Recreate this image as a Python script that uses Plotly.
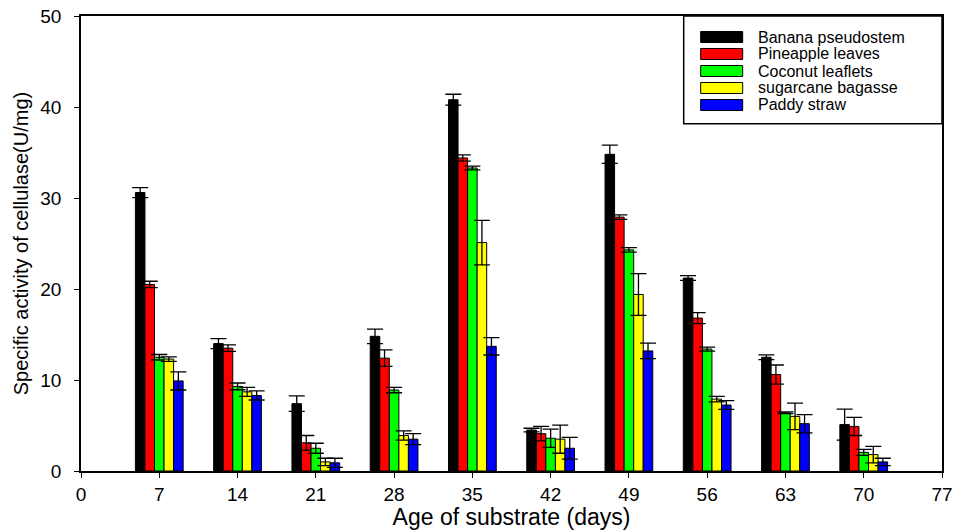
import plotly.graph_objects as go

# Age of substrate (days) and specific cellulase activity (U/mg) per substrate
days = [7, 14, 21, 28, 35, 42, 49, 56, 63, 70]
x_ticks = [0, 7, 14, 21, 28, 35, 42, 49, 56, 63, 70, 77]
y_ticks = [0, 10, 20, 30, 40, 50]

substrates = ["Banana pseudostem", "Pineapple leaves", "Coconut leaflets",
              "sugarcane bagasse", "Paddy straw"]
colors = ["#000000", "#FF0000", "#00FF00", "#FFFF00", "#0000FF"]

banana = [30.6, 14.0, 7.4, 14.8, 40.8, 4.5, 34.8, 21.2, 12.5, 5.1]
banana_err = [0.55, 0.55, 0.85, 0.8, 0.6, 0.2, 1.0, 0.26, 0.26, 1.7]
pineapple = [20.5, 13.5, 3.1, 12.4, 34.4, 4.1, 27.9, 16.8, 10.6, 4.9]
pineapple_err = [0.35, 0.35, 0.8, 0.9, 0.35, 0.8, 0.25, 0.6, 1.05, 1.0]
coconut = [12.5, 9.3, 2.5, 8.9, 33.3, 3.6, 24.3, 13.4, 6.4, 2.05]
coconut_err = [0.3, 0.37, 0.55, 0.3, 0.2, 1.0, 0.25, 0.22, 0.1, 0.33]
sugarcane = [12.3, 8.7, 1.0, 3.9, 25.1, 3.5, 19.4, 7.9, 6.0, 1.8]
sugarcane_err = [0.25, 0.5, 0.4, 0.5, 2.45, 1.55, 2.3, 0.3, 1.46, 0.9]
paddy = [9.9, 8.3, 0.9, 3.5, 13.7, 2.5, 13.2, 7.25, 5.2, 1.0]
paddy_err = [1.0, 0.5, 0.5, 0.6, 0.95, 1.2, 0.85, 0.48, 1.0, 0.4]

values = [banana, pineapple, coconut, sugarcane, paddy]
errors = [banana_err, pineapple_err, coconut_err, sugarcane_err, paddy_err]

FONT = "Liberation Sans, Arial, sans-serif"

fig = go.Figure()
for name, color, vals, errs in zip(substrates, colors, values, errors):
    fig.add_trace(go.Bar(
        x=days, y=vals, name=name,
        marker=dict(color=color, line=dict(color="#000000", width=1)),
        error_y=dict(type="data", array=errs, visible=True,
                     color="#000000", thickness=1.3, width=8),
        showlegend=False,
    ))

# Boxed legend in the upper-right corner with wide colour swatches
shapes = [dict(type="rect", xref="paper", yref="paper",
               x0=0.700, x1=1.0, y0=0.763, y1=1.0,
               line=dict(color="#000000", width=1.5), fillcolor="white", layer="above")]
annotations = []
row_y = [0.9538, 0.9165, 0.8791, 0.8418, 0.8044]
for name, color, yy in zip(substrates, colors, row_y):
    shapes.append(dict(type="rect", xref="paper", yref="paper",
                       x0=0.7197, x1=0.7685, y0=yy - 0.0121, y1=yy + 0.0121,
                       line=dict(color="#000000", width=1), fillcolor=color,
                       layer="above"))
    annotations.append(dict(xref="paper", yref="paper", x=0.7836, y=yy,
                            text=name, showarrow=False, xanchor="left",
                            yanchor="middle",
                            font=dict(family=FONT, size=16, color="#000000")))

fig.update_layout(
    width=958, height=530,
    margin=dict(l=81, r=16, t=16, b=59),
    paper_bgcolor="white", plot_bgcolor="white",
    barmode="group", bargap=0.39, bargroupgap=0.0,
    font=dict(family=FONT, color="#000000"),
    shapes=shapes, annotations=annotations,
    xaxis=dict(
        range=[0, 77], tickmode="array", tickvals=x_ticks,
        ticks="outside", ticklen=5, tickwidth=1.3, tickcolor="#000000",
        showline=True, linecolor="#000000", linewidth=1.5, mirror=True,
        showgrid=False, zeroline=False,
        tickfont=dict(family=FONT, size=19),
        title=dict(text="Age of substrate (days)", standoff=2,
                   font=dict(family=FONT, size=23)),
        automargin=False,
    ),
    yaxis=dict(
        range=[0, 50], tickmode="array", tickvals=y_ticks,
        ticks="outside", ticklen=5, tickwidth=1.3, tickcolor="#000000",
        showline=True, linecolor="#000000", linewidth=1.5, mirror=True,
        showgrid=False, zeroline=False, ticklabelstandoff=9,
        tickfont=dict(family=FONT, size=19),
        title=dict(text="Specific activity of cellulase(U/mg)", standoff=6,
                   font=dict(family=FONT, size=20)),
        automargin=False,
    ),
)

fig.write_html("out.html")
